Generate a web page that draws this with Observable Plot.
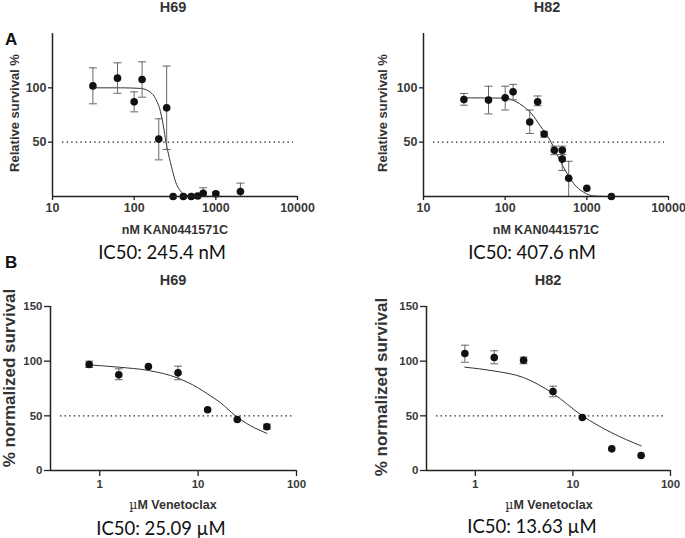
<!DOCTYPE html>
<html>
<head>
<meta charset="utf-8">
<script src="https://cdn.jsdelivr.net/npm/d3@7"></script>
<script src="https://cdn.jsdelivr.net/npm/@observablehq/plot@0.6"></script>
<style>
  html, body { margin: 0; padding: 0; background: #fff; }
  #root { position: relative; width: 685px; height: 538px; overflow: hidden; background: #fff; }
  .panel { position: absolute; }
  .t { position: absolute; white-space: nowrap; line-height: 1; }
  .sans { font-family: "Liberation Sans", Arial, sans-serif; font-weight: bold; color: #333; }
  .ic { font-family: Lato, "Open Sans", sans-serif; font-weight: normal; color: #111; }
  .rot { transform: translate(-50%, -50%) rotate(-90deg); }
</style>
</head>
<body>
<div id="root"></div>
<script>
// ---------- Panel A, H69 (nM KAN0441571C) ----------
const aH69Conc = [31.25, 62.5, 100, 125, 200, 250, 300, 400, 500, 600, 700, 1000, 2000];
const aH69Surv = [101.8, 108.9, 87.1, 107.7, 52.8, 81.6, 0, 0, 0, 0.5, 3, 2.5, 4.6];
const aH69Lo   = [85.3, 95, 77.9, 91.4, 33.7, 43.3, 0, 0, 0, 0.5, 3, 2.5, 0];
const aH69Hi   = [118.4, 123, 96.3, 123.9, 71.5, 120, 0, 0, 0, 0.5, 8, 4, 12.3];
const aH69FitConc = [31.25, 68, 119, 158, 183, 210, 229, 245, 263, 294, 320, 369, 425, 500, 2000];
const aH69FitSurv = [100, 100, 99.5, 96, 90, 78, 64, 50, 39, 24, 14, 5, 1.5, 0.3, 0];

// ---------- Panel A, H82 ----------
const aH82Conc = [31.25, 62.5, 100, 125, 200, 250, 300, 400, 500, 500, 600, 1000, 2000];
const aH82Surv = [89.3, 88.7, 90.8, 96.3, 68.5, 87.1, 57.5, 42.6, 42.6, 34.4, 16.8, 7.6, 0];
const aH82Lo   = [84, 76, 79.6, 89, 58, 83.5, 54.6, 38.5, 38.7, 24, 0, 7.6, 0];
const aH82Hi   = [94.8, 101.5, 101.5, 103.2, 79.6, 92.5, 59.8, 46.3, 46.3, 44, 32.4, 7.6, 0];
const aH82FitConc = [31.25, 100, 132, 167, 211, 269, 365, 430, 545, 689, 913, 1210, 2000];
const aH82FitSurv = [90.8, 90.5, 87.7, 83, 76, 65, 50, 39, 24, 12, 4, 0.5, 0];

// ---------- Panel B, H69 (µM Venetoclax) ----------
const bH69Conc = [0.78125, 1.5625, 3.125, 6.25, 12.5, 25, 50];
const bH69Surv = [97, 87.5, 95.1, 89.3, 55.5, 46.6, 40];
const bH69Lo   = [94.2, 83, 95.1, 83, 55.5, 46.6, 37.8];
const bH69Hi   = [100, 93, 95.1, 95.4, 55.5, 46.6, 42.4];
const bH69FitConc = [0.78125, 1.5625, 3.125, 6.25, 9.8, 12.5, 16.9, 24, 34, 50];
const bH69FitSurv = [96.6, 94.5, 91.5, 84.5, 76, 70, 62, 50, 41, 34];

// ---------- Panel B, H82 ----------
const bH82Conc = [0.78125, 1.5625, 3.125, 6.25, 12.5, 25, 50];
const bH82Surv = [107, 103.4, 100.9, 72.3, 48.5, 19.8, 13.7];
const bH82Lo   = [99, 97.6, 97.6, 67.4, 48.5, 19.8, 13.7];
const bH82Hi   = [114.6, 109.5, 103.7, 77.1, 48.5, 19.8, 13.7];
const bH82FitConc = [0.78125, 1.5625, 3.125, 6.25, 12.5, 25, 50];
const bH82FitSurv = [94.5, 91, 85, 70.5, 50, 34.5, 22.5];

// tick values and labels
const aXTicks = [10, 100, 1000, 10000];
const bXTicks = [1, 10, 100];
const aYTicks = [50, 100];
const bYTicks = [0, 50, 100, 150];
const yDomain = [0, 150];
const aXDomain = [10, 10000];
const bXDomain = [0.316, 100];

const capSymbol = {
  draw(ctx, size) {
    const r = Math.sqrt(size / Math.PI);
    ctx.moveTo(-r, 0);
    ctx.lineTo(r, 0);
  }
};

function panel(o) {
  const pts = o.conc.map((c, i) => ({c, s: o.surv[i], lo: o.lo[i], hi: o.hi[i]}));
  const fit = o.fitConc.map((c, i) => ({c, s: o.fitSurv[i]}));
  return Plot.plot({
    width: o.width, height: o.height,
    marginLeft: o.ml, marginRight: o.mr, marginTop: o.mt, marginBottom: o.mb,
    style: {fontFamily: '"Liberation Sans", Arial, sans-serif', fontWeight: "bold", fontSize: o.fs + "px", color: "#3a3a3a", background: "transparent", overflow: "visible"},
    x: {type: "log", domain: o.xDomain, label: null},
    y: {domain: yDomain, label: null},
    marks: [
      Plot.ruleY([50], {stroke: "#222", strokeWidth: 1.4, strokeDasharray: "1.4,3.2", insetLeft: 10, insetRight: 4}),
      Plot.line(fit, {x: "c", y: "s", curve: "monotone-x", stroke: "#333", strokeWidth: 1}),
      Plot.ruleX(pts.filter(d => d.hi > d.lo), {x: "c", y1: "lo", y2: "hi", stroke: "#666", strokeWidth: 1}),
      Plot.dot(pts.filter(d => d.hi > d.s), {x: "c", y: "hi", symbol: capSymbol, r: 4, fill: "none", stroke: "#666", strokeWidth: 1}),
      Plot.dot(pts.filter(d => d.lo < d.s), {x: "c", y: "lo", symbol: capSymbol, r: 4, fill: "none", stroke: "#666", strokeWidth: 1}),
      Plot.dot(pts, {x: "c", y: "s", r: 3.8, fill: "#111", stroke: "none"}),
      Plot.axisX({ticks: o.xTicks, tickFormat: d => String(d), tickSize: o.ts, tickPadding: 3, label: null, stroke: "#222", strokeWidth: 1.3, fill: "#3a3a3a"}),
      Plot.axisY({ticks: o.yTicks, tickFormat: d => String(d), tickSize: o.ts, tickPadding: 2, label: null, stroke: "#222", strokeWidth: 1.3, fill: "#3a3a3a"}),
      Plot.ruleY([0], {stroke: "#222", strokeWidth: 1.5}),
      Plot.ruleX([o.xDomain[0]], {stroke: "#222", strokeWidth: 1.5})
    ]
  });
}

const root = document.getElementById("root");
function place(node, left, top) {
  const d = document.createElement("div");
  d.className = "panel";
  d.style.left = left + "px";
  d.style.top = top + "px";
  d.appendChild(node);
  root.appendChild(d);
}

place(panel({conc: aH69Conc, surv: aH69Surv, lo: aH69Lo, hi: aH69Hi, fitConc: aH69FitConc, fitSurv: aH69FitSurv,
  xDomain: aXDomain, xTicks: aXTicks, yTicks: aYTicks, width: 320, height: 200, ml: 52, mr: 23, mt: 13, mb: 24, fs: 12.5, ts: 4}), 0, 20);
place(panel({conc: aH82Conc, surv: aH82Surv, lo: aH82Lo, hi: aH82Hi, fitConc: aH82FitConc, fitSurv: aH82FitSurv,
  xDomain: aXDomain, xTicks: aXTicks, yTicks: aYTicks, width: 314, height: 200, ml: 52, mr: 17, mt: 13, mb: 24, fs: 12.5, ts: 4}), 371, 20);
place(panel({conc: bH69Conc, surv: bH69Surv, lo: bH69Lo, hi: bH69Hi, fitConc: bH69FitConc, fitSurv: bH69FitSurv,
  xDomain: bXDomain, xTicks: bXTicks, yTicks: bYTicks, width: 320, height: 200, ml: 50, mr: 24, mt: 11, mb: 25, fs: 11.5, ts: 6}), 0, 295);
place(panel({conc: bH82Conc, surv: bH82Surv, lo: bH82Lo, hi: bH82Hi, fitConc: bH82FitConc, fitSurv: bH82FitSurv,
  xDomain: bXDomain, xTicks: bXTicks, yTicks: bYTicks, width: 309, height: 200, ml: 50, mr: 15, mt: 11, mb: 25, fs: 11.5, ts: 6}), 376, 295);

// text helpers: baseline-positioned, centered
function text(str, cx, baseline, size, cls, k) {
  const d = document.createElement("div");
  d.className = "t " + cls;
  d.style.fontSize = size + "px";
  d.innerHTML = str;
  d.style.left = cx + "px";
  d.style.top = (baseline - k * size) + "px";
  d.style.transform = "translateX(-50%)";
  root.appendChild(d);
}
function sans(str, cx, baseline, size) { text(str, cx, baseline, size, "sans", 0.8465); }
function ic(str, cx, baseline) { text(str, cx, baseline, 18.5, "ic", 0.887); }
function rot(str, cx, cy, size) {
  const d = document.createElement("div");
  d.className = "t sans rot";
  d.style.fontSize = size + "px";
  d.textContent = str;
  d.style.left = cx + "px";
  d.style.top = cy + "px";
  root.appendChild(d);
}

const titles = ["H69", "H82"];
sans(titles[0], 173, 12, 14.5);
sans(titles[1], 547, 12, 14.5);
sans(titles[0], 173, 285, 14.5);
sans(titles[1], 548, 285, 14.5);

const panelLetters = ["A", "B"];
const la = document.createElement("div");
la.className = "t sans"; la.style.color = "#111"; la.style.fontSize = "17px";
la.textContent = panelLetters[0]; la.style.left = "5px"; la.style.top = (45 - 0.8465 * 17) + "px";
root.appendChild(la);
const lb = document.createElement("div");
lb.className = "t sans"; lb.style.color = "#111"; lb.style.fontSize = "17px";
lb.textContent = panelLetters[1]; lb.style.left = "5px"; lb.style.top = (268 - 0.8465 * 17) + "px";
root.appendChild(lb);

const aXLabel = "nM KAN0441571C";
const bXLabel = '<span style="font-weight:normal;font-family:\'DejaVu Serif\',serif">\u00b5</span>M Venetoclax';
const aYLabel = "Relative survival %";
const bYLabel = "% normalized survival";
const ic50 = ["IC50: 245.4 nM", "IC50: 407.6 nM", "IC50: 25.09 \u00b5M", "IC50: 13.63 \u00b5M"];

sans(aXLabel, 175, 235, 12.5);
sans(aXLabel, 546, 235, 12.5);
sans(bXLabel, 173, 510, 12.5);
sans(bXLabel, 549, 510, 12.5);
rot(aYLabel, 14, 113, 13);
rot(aYLabel, 382, 113, 13);
rot(bYLabel, 9, 378, 17);
rot(bYLabel, 381, 387, 17);
ic(ic50[0], 162, 259);
ic(ic50[1], 532, 259);
ic(ic50[2], 161, 535);
ic(ic50[3], 532, 533);
</script>
</body>
</html>
